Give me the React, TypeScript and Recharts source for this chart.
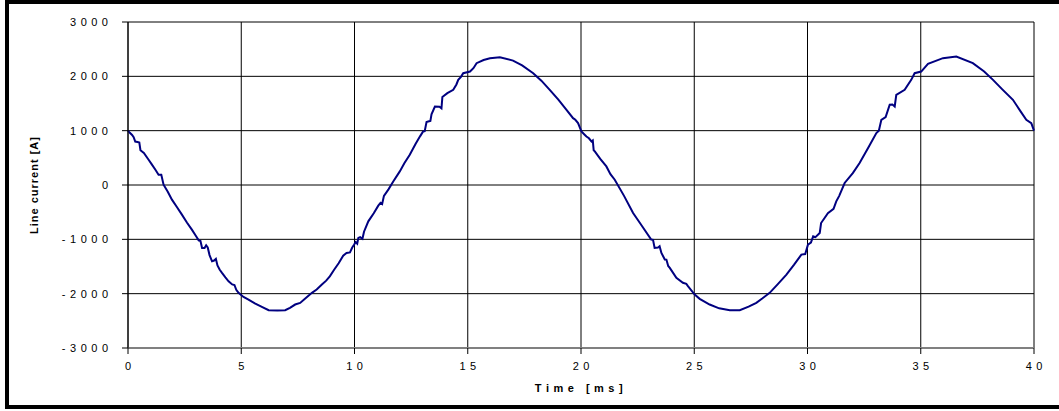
import { LineChart, Line, XAxis, YAxis, CartesianGrid, Label } from 'recharts';

// time in ms
const time = [
  0.0, 0.08, 0.18, 0.25, 0.32, 0.42, 0.5, 0.55, 0.7, 0.91, 1.05, 1.21, 1.35, 1.47, 1.57, 1.75, 1.94, 2.15, 2.38, 2.6,
  2.82, 3.0, 3.12, 3.2, 3.27, 3.38, 3.45, 3.52, 3.6, 3.71, 3.8, 3.88, 3.95, 4.05, 4.15, 4.3, 4.44, 4.6, 4.7, 4.78,
  4.88, 5.1, 5.32, 5.6, 5.91, 6.21, 6.6, 6.94, 7.15, 7.38, 7.6, 7.8, 8.12, 8.33, 8.56, 8.75, 8.91, 9.1, 9.3, 9.5,
  9.65, 9.8, 9.9, 9.98, 10.05, 10.12, 10.17, 10.25, 10.35, 10.42, 10.61, 10.85, 11.05, 11.15, 11.22, 11.3, 11.5, 11.71, 12.0, 12.2,
  12.44, 12.7, 12.9, 13.03, 13.1, 13.18, 13.25, 13.35, 13.4, 13.55, 13.75, 13.84, 13.88, 14.1, 14.36, 14.5, 14.58, 14.7, 14.8, 15.1,
  15.25, 15.39, 15.7, 15.98, 16.42, 17.0, 17.4, 17.89, 18.25, 18.62, 19.0, 19.36, 19.65, 19.75, 19.87, 20.02, 20.15, 20.24, 20.35, 20.46,
  20.52, 20.56, 20.61, 20.85, 21.12, 21.3, 21.49, 21.9, 22.3, 22.7, 23.1, 23.18, 23.25, 23.4, 23.47, 23.55, 23.7, 23.77, 23.85, 23.92,
  24.21, 24.5, 24.65, 24.73, 25.02, 25.24, 25.68, 26.1, 26.57, 27.01, 27.4, 27.74, 28.0, 28.33, 28.7, 29.07, 29.4, 29.73, 29.9, 30.02,
  30.15, 30.25, 30.35, 30.54, 30.6, 30.9, 31.15, 31.27, 31.4, 31.64, 32.0, 32.3, 32.7, 33.04, 33.15, 33.26, 33.45, 33.63, 33.75, 33.85,
  33.92, 34.29, 34.58, 34.73, 35.02, 35.32, 35.98, 36.57, 37.3, 37.8, 38.19, 38.6, 39.07, 39.4, 39.66, 39.88, 40.0,
];

// line current in A
const current = [
  1000, 960, 920, 880, 800, 790, 780, 640, 590, 465, 380, 280, 190, 190, 5, -120, -270, -400, -546, -690,
  -822, -940, -1018, -1030, -1158, -1160, -1110, -1150, -1290, -1404, -1390, -1360, -1480, -1560, -1618, -1700, -1772, -1830, -1840, -1930,
  -1985, -2060, -2108, -2180, -2243, -2305, -2310, -2305, -2260, -2200, -2170, -2100, -1985, -1924, -1832, -1760, -1680, -1560, -1440, -1300,
  -1250, -1240, -1150, -1100, -1050, -1080, -974, -960, -990, -860, -669, -520, -380, -330, -350, -200, -80, 66, 250, 400,
  557, 760, 900, 985, 990, 1160, 1169, 1180, 1300, 1445, 1440, 1410, 1620, 1690, 1752, 1850, 1935, 1990, 2058, 2088,
  2150, 2242, 2300, 2334, 2352, 2290, 2200, 2058, 1920, 1752, 1570, 1384, 1230, 1200, 1140, 985, 930, 893, 860, 801,
  820, 640, 618, 480, 342, 200, 97, -200, -515, -760, -1005, -1010, -1158, -1150, -1128, -1250, -1370, -1373, -1490, -1526,
  -1710, -1800, -1820, -1864, -2016, -2095, -2200, -2270, -2305, -2305, -2240, -2169, -2090, -1985, -1820, -1649, -1470, -1281, -1270, -1097,
  -1060, -945, -960, -882, -700, -520, -440, -301, -200, 37, 220, 404, 700, 956, 1000, 1200, 1250, 1476, 1480, 1445,
  1660, 1752, 1935, 2058, 2088, 2230, 2334, 2364, 2242, 2090, 1935, 1760, 1568, 1360, 1200, 1140, 1000,
];

const xTicks = [0, 5, 10, 15, 20, 25, 30, 35, 40];
const yTicks = [-3000, -2000, -1000, 0, 1000, 2000, 3000];

const data = time.map((t, i) => ({ t, current: current[i] }));

const font = 'Liberation Sans, Arial, sans-serif';
const spacing = 4.5;

const XTick = (props: any) => {
  const { x, y, payload } = props;
  return (
    <text x={x + spacing / 2} y={y} dy="0.71em" textAnchor="middle" fontSize={11} fontFamily={font} fill="#000" letterSpacing={spacing}>
      {String(payload.value)}
    </text>
  );
};

const YTick = (props: any) => {
  const { x, y, payload } = props;
  return (
    <text x={x + spacing} y={y} dy="0.355em" textAnchor="end" fontSize={11} fontFamily={font} fill="#000" letterSpacing={spacing}>
      {String(payload.value)}
    </text>
  );
};

export default function App() {
  return (
    <div style={{ position: 'absolute', left: 0, top: 0, width: 1059, height: 411, overflow: 'hidden', background: '#fff' }}>
      <div
        style={{
          position: 'absolute',
          left: 5,
          top: 0,
          width: 1070,
          height: 409,
          border: '4px solid #000',
          boxSizing: 'border-box',
        }}
      />
      <div style={{ position: 'absolute', left: 0, top: 0 }}>
        <LineChart width={1059} height={411} data={data} margin={{ top: 22, right: 25, left: 0, bottom: 0 }}>
          <CartesianGrid stroke="#000" strokeWidth={1} />
          <XAxis
            dataKey="t"
            type="number"
            domain={[0, 40]}
            ticks={xTicks}
            height={63}
            interval={0}
            axisLine={{ stroke: '#808080', strokeWidth: 2 }}
            tickLine={{ stroke: '#000' }}
            tickSize={6}
            tickMargin={8}
            tick={<XTick />}
          >
            <Label
              value="Time [ms]"
              position="insideBottom"
              offset={19}
              style={{ fontFamily: font, fontSize: 11, fontWeight: 'bold', letterSpacing: spacing, fill: '#000' }}
            />
          </XAxis>
          <YAxis
            type="number"
            domain={[-3000, 3000]}
            ticks={yTicks}
            width={128}
            interval={0}
            axisLine={{ stroke: '#000' }}
            tickLine={{ stroke: '#000' }}
            tickSize={6}
            tickMargin={14}
            tick={<YTick />}
          >
            <Label
              value="Line current [A]"
              angle={-90}
              position="insideLeft"
              offset={34}
              style={{ fontFamily: font, fontSize: 11, fontWeight: 'bold', letterSpacing: 1, fill: '#000', textAnchor: 'middle' }}
            />
          </YAxis>
          <Line
            type="linear"
            dataKey="current"
            stroke="#000080"
            strokeWidth={2}
            dot={false}
            isAnimationActive={false}
          />
        </LineChart>
      </div>
    </div>
  );
}
